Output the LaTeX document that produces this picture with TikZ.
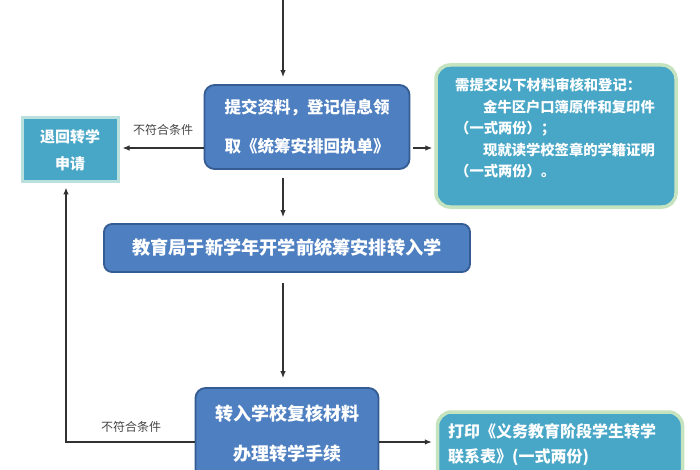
\documentclass[tikz,border=0pt]{standalone}
\usepackage{fontspec}
\newfontfamily\cjk{Noto Sans CJK SC}
\usetikzlibrary{arrows.meta}
\definecolor{bluefill}{RGB}{77,127,193}
\definecolor{blueedge}{RGB}{52,92,146}
\definecolor{tealfill}{RGB}{72,166,199}
\definecolor{tealedge}{RGB}{185,224,220}
\definecolor{greenedge}{RGB}{196,227,190}
\definecolor{linecol}{RGB}{50,50,50}
\definecolor{labcol}{RGB}{70,70,70}
\begin{document}
\begin{tikzpicture}[x=1pt,y=-1pt,
  bluebox/.style={draw=blueedge,line width=1.8pt,fill=bluefill,rounded corners=10pt,
    text=white,align=center,inner sep=0pt},
  tealbox/.style={draw=greenedge,line width=3.5pt,fill=tealfill,rounded corners=14pt,inner sep=0pt},
  arr/.style={draw=linecol,line width=1.2pt,-{Latex[length=7pt,width=5.5pt]}},
  lab/.style={text=labcol,font=\cjk\fontsize{12}{14}\selectfont,inner sep=0pt}]
\clip (0,0) rectangle (700,470);
\useasboundingbox (0,0) rectangle (700,470);
\fill[white] (0,0) rectangle (700,470);

% nodes
\node[bluebox,minimum width=205pt,minimum height=84pt,
  font=\cjk\bfseries\fontsize{16.5}{39}\selectfont] (b1) at (307,127)
  {提交资料，登记信息领\\取《统筹安排回执单》};
\node[draw=tealedge,line width=3pt,fill=tealfill,minimum width=96pt,minimum height=64pt,
  inner sep=0pt,text=white,align=center,font=\cjk\bfseries\fontsize{15}{27}\selectfont] (back) at (70,150)
  {退回转学\\申请};
\node[tealbox,minimum width=240pt,minimum height=142pt] (info) at (556,136) {};
\node[anchor=north west,inner sep=0pt,text=white,align=left,text width=220pt,
  font=\cjk\bfseries\fontsize{14.3}{21.5}\selectfont] (infotext) at (455,78)
  {需提交以下材料审核和登记：\\
   \hspace*{28pt}金牛区户口簿原件和复印件\\
   （一式两份）；\\
   \hspace*{28pt}现就读学校签章的学籍证明\\
   （一式两份）。};
\node[bluebox,rounded corners=8pt,minimum width=366pt,minimum height=48pt,
  font=\cjk\bfseries\fontsize{18.2}{22}\selectfont] (b2) at (287,248)
  {教育局于新学年开学前统筹安排转入学};
\node[bluebox,minimum width=183pt,minimum height=92pt,
  font=\cjk\bfseries\fontsize{18}{40}\selectfont] (b3) at (287,434)
  {转入学校复核材料\\办理转学手续};
\node[tealbox,minimum width=245pt,minimum height=80pt] (b4) at (560,452) {};
\node[anchor=north west,inner sep=0pt,text=white,align=left,
  font=\cjk\bfseries\fontsize{16}{25}\selectfont] (b4text) at (448,423)
  {打印《义务教育阶段学生转学\\联系表》(一式两份)};

% labels
\node[lab] (l1) at (163,130) {不符合条件};
\node[lab] (l2) at (131,427) {不符合条件};

% connectors
\coordinate (top) at (283,0);
\coordinate (corner) at (66,442);
\draw[arr,shorten >=7pt] (top) -- (top |- b1.north);
\draw[arr,shorten <=8pt,shorten >=6pt] (b1.south -| top) -- (b2.north -| top);
\draw[arr,shorten <=10pt,shorten >=9pt] (b2.south -| top) -- (b3.north -| top);
\draw[arr,shorten >=3pt] (b1.west |- 0,148) -- (back.east |- 0,148);
\draw[arr,shorten <=3pt,shorten >=2pt] (b1.east |- 0,148) -- (info.west |- 0,148);
\draw[arr,shorten >=4pt] (b3.west |- corner) -- (corner) -- (back.south -| corner);
\draw[arr,shorten >=4pt] (b3.east |- corner) -- (b4.west |- corner);
\end{tikzpicture}
\end{document}
